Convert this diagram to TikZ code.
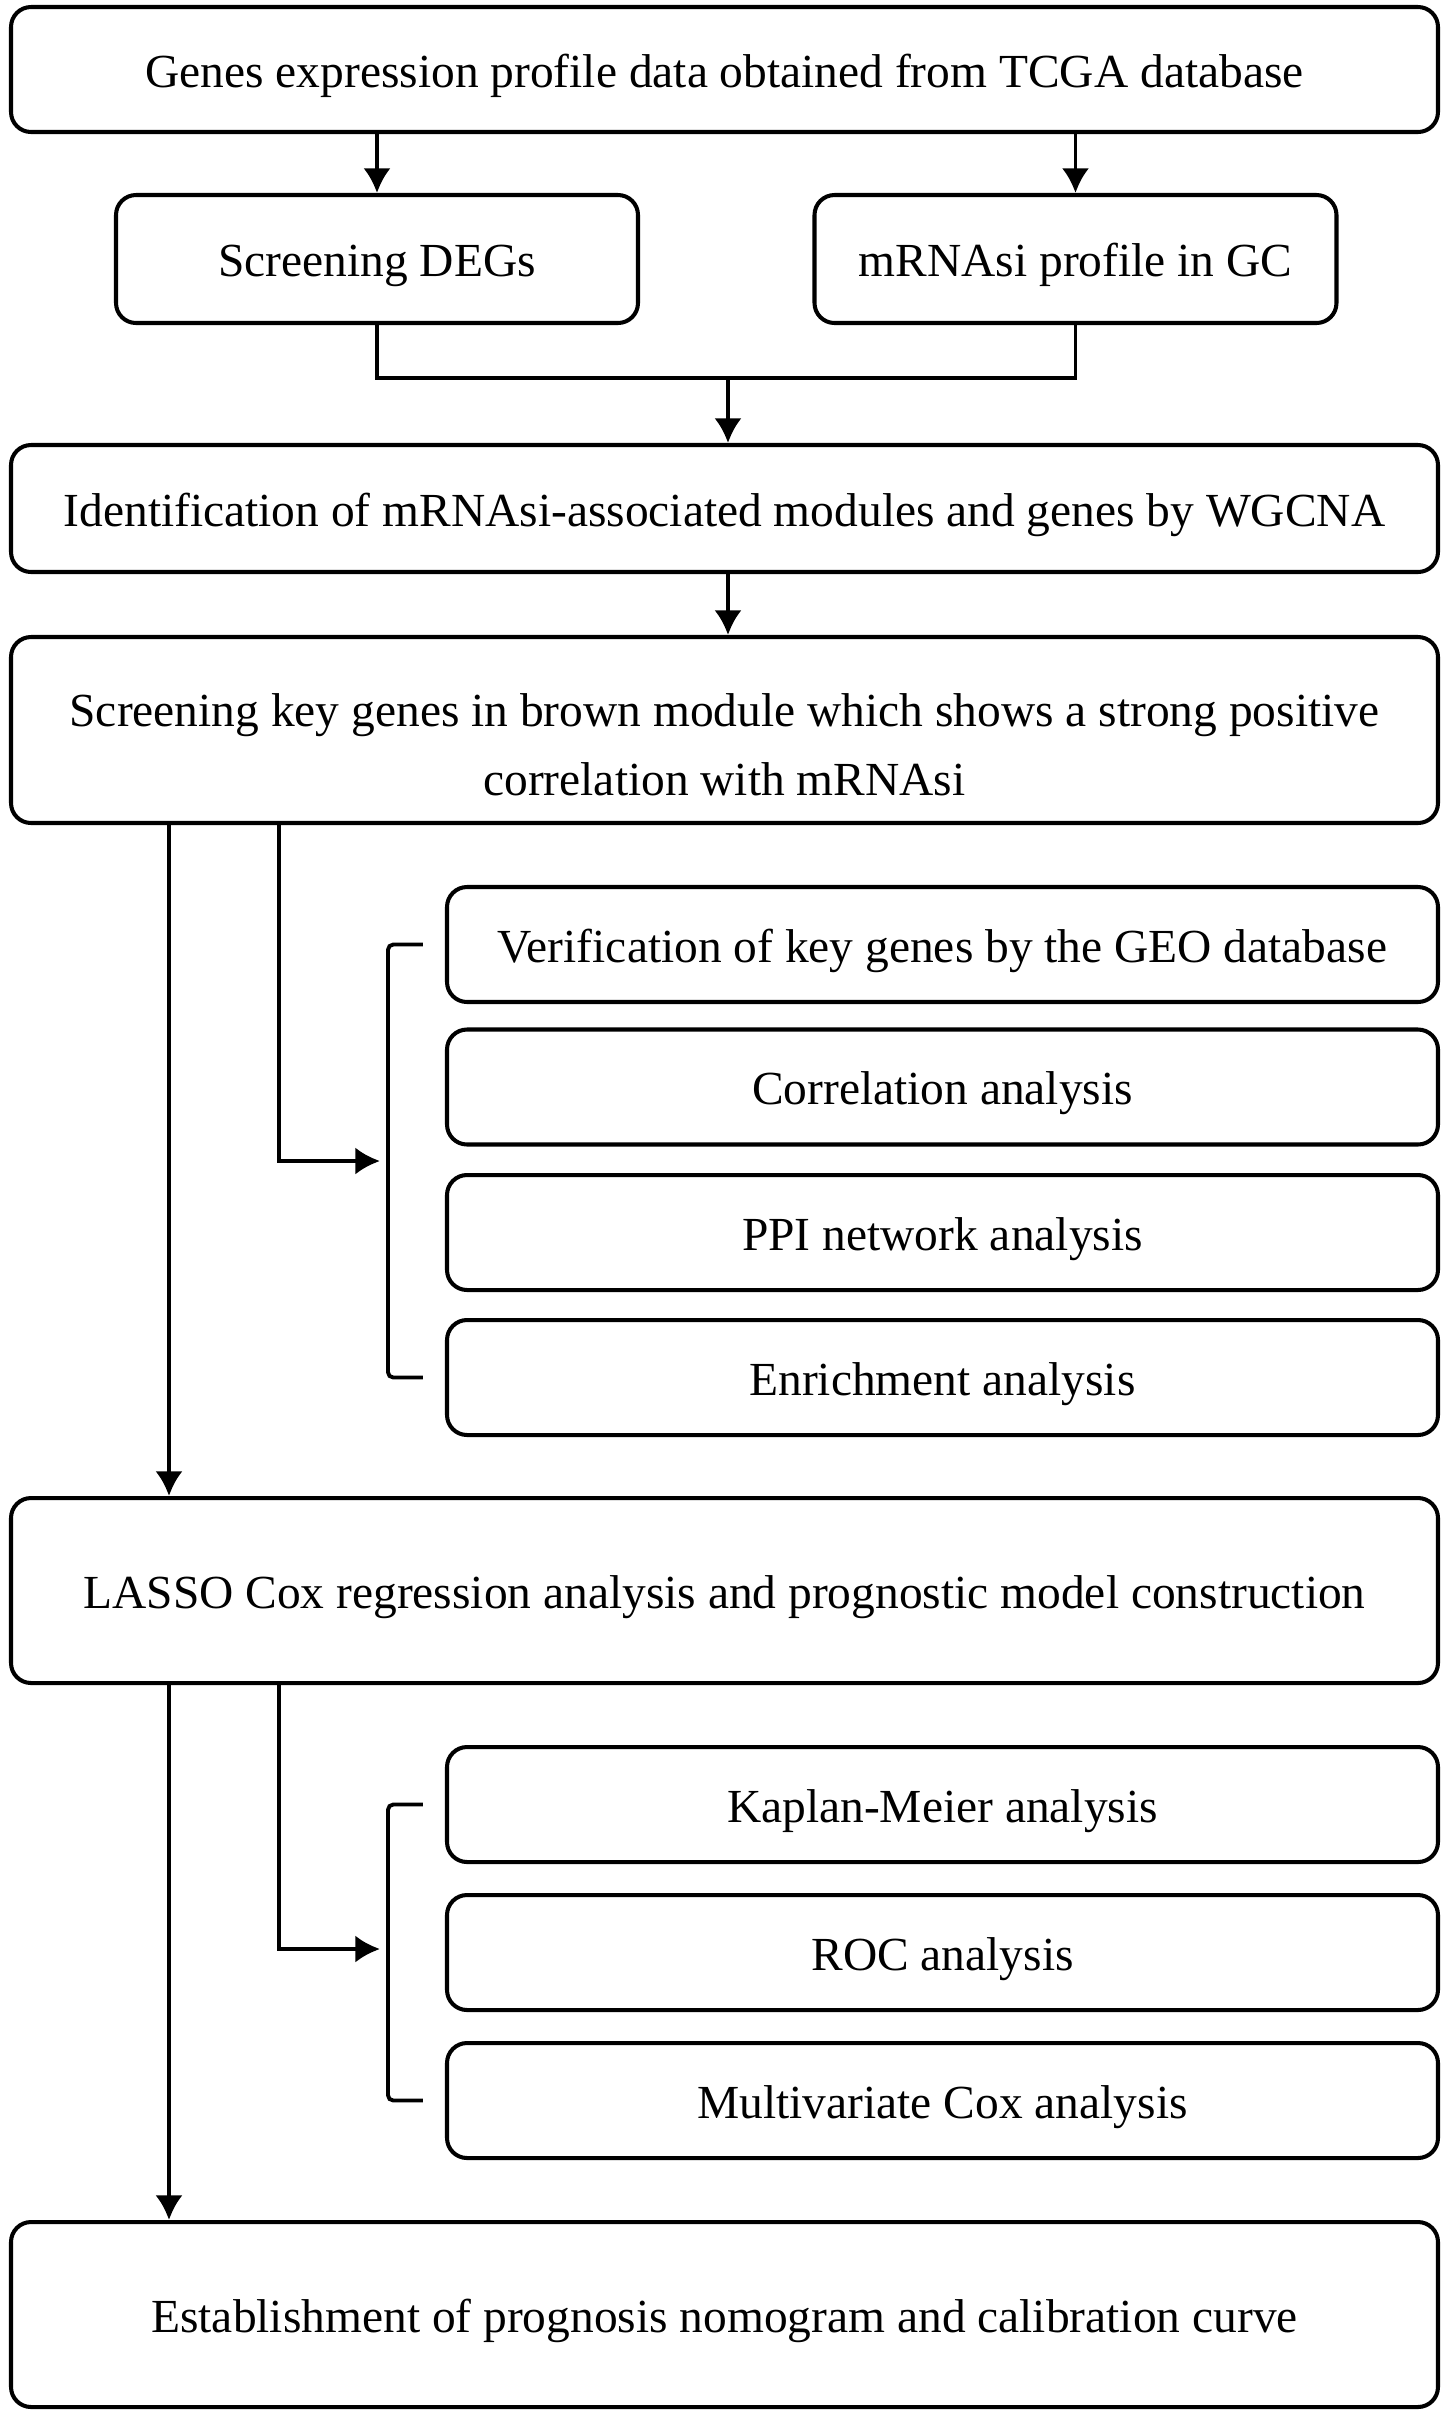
\documentclass[tikz,border=0pt]{standalone}
\usepackage{fontspec}
\setmainfont{Liberation Serif}
\usetikzlibrary{arrows.meta}
\tikzset{
  box/.style={draw, line width=1.15pt, rounded corners=5.7pt, align=center, inner sep=0pt,
    minimum width=142.7mm, text height=1em, text depth=0pt, font=\fontsize{13.5}{19.6}\selectfont},
  sub/.style={box, minimum width=99.1mm, minimum height=11.5mm},
  brk/.style={line width=1.1pt, rounded corners=1.5pt}
}
\begin{document}
\begin{tikzpicture}[x=0.1mm,y=-0.1mm,>={Latex[length=7pt,width=7.7pt]},line width=1.1pt]
\useasboundingbox (0,0) rectangle (1450,2413);
\node[box, minimum height=12.5mm] (tcga) at (724.5, 69.5) {Genes expression profile data obtained from TCGA database};
\node[box, minimum width=52.2mm, minimum height=12.8mm] (deg) at (377, 259) {Screening DEGs};
\node[box, minimum width=52.2mm, minimum height=12.8mm] (si) at (1075.5, 259) {mRNAsi profile in GC};
\node[box, minimum height=12.7mm] (wg) at (724.5, 508.5) {Identification of mRNAsi-associated modules and genes by WGCNA};
\node[box, minimum height=18.6mm, text height=37pt] (br) at (724.5, 730) {Screening key genes in brown module which shows a strong positive\\correlation with mRNAsi};
\node[sub] (geo) at (942.5, 944.5) {Verification of key genes by the GEO database};
\node[sub] (cor) at (942.5, 1087) {Correlation analysis};
\node[sub] (ppi) at (942.5, 1232.5) {PPI network analysis};
\node[sub] (enr) at (942.5, 1377.5) {Enrichment analysis};
\node[box, minimum height=18.5mm] (las) at (724.5, 1590.5) {LASSO Cox regression analysis and prognostic model construction};
\node[sub] (km) at (942.5, 1804.5) {Kaplan-Meier analysis};
\node[sub] (roc) at (942.5, 1952.5) {ROC analysis};
\node[sub] (mc) at (942.5, 2100.5) {Multivariate Cox analysis};
\node[box, minimum height=18.5mm] (nom) at (724.5, 2314.5) {Establishment of prognosis nomogram and calibration curve};
\coordinate (l) at (169, 0);
\coordinate (r) at (279, 0);
\coordinate (j) at (728, 378);
\coordinate (b1) at (380, 1161);
\coordinate (b2) at (380, 1949);
\draw[->] (tcga.south -| deg) -- (deg.north);
\draw[->] (tcga.south -| si) -- (si.north);
\draw (deg.south) |- (j) -| (si.south);
\draw[->] (j) -- (j |- wg.north);
\draw[->] (wg.south -| j) -- (br.north -| j);
\draw[->] (br.south -| l) -- (las.north -| l);
\draw[->] (br.south -| r) |- (b1);
\draw[brk] ([xshift=-2.2mm]geo.west) -- ++(-3.5mm,0) |- ([xshift=-2.2mm]enr.west);
\draw[->] (las.south -| l) -- (nom.north -| l);
\draw[->] (las.south -| r) |- (b2);
\draw[brk] ([xshift=-2.2mm]km.west) -- ++(-3.5mm,0) |- ([xshift=-2.2mm]mc.west);
\end{tikzpicture}
\end{document}
